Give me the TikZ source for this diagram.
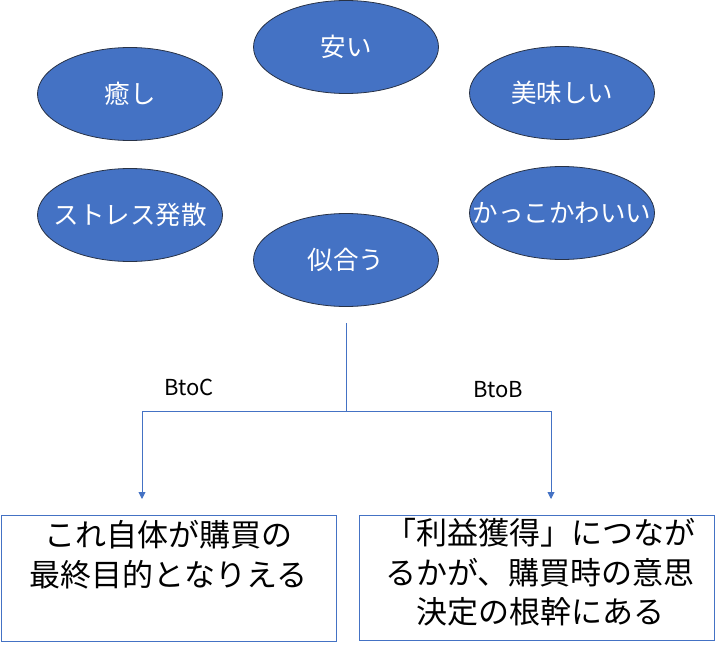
\documentclass[tikz,border=0pt]{standalone}
\usepackage{fontspec}
\setmainfont{Noto Sans CJK JP}
\usetikzlibrary{shapes.geometric,arrows.meta}
\definecolor{accent}{RGB}{68,114,196}
\definecolor{edgeline}{RGB}{40,50,70}
\begin{document}
\begin{tikzpicture}[x=1pt,y=-1pt,
  oval/.style={ellipse,draw=edgeline,line width=0.8pt,fill=accent,minimum width=185pt,minimum height=93pt,inner sep=0pt,text=white,font=\fontsize{25.5}{28}\selectfont},
  conn/.style={draw=accent,line width=0.9pt},
  textbox/.style={draw=accent,line width=0.9pt,fill=white},
  lbl/.style={font=\fontsize{22}{24}\selectfont,text=black}]
\useasboundingbox (0,0) rectangle (717,653);
\node[oval] (yasui) at (346,47) {\makebox[0pt]{安い}};
\node[oval] (iyashi) at (130,94) {\makebox[0pt]{癒し}};
\node[oval] (oishii) at (562,93) {\makebox[0pt]{美味しい}};
\node[oval] (stress) at (130,215) {\makebox[0pt]{ストレス発散}};
\node[oval] (kakko) at (562,213) {\makebox[0pt]{かっこかわいい}};
\node[oval] (niau) at (346,260) {\makebox[0pt]{似合う}};
\coordinate (top) at (346,323);
\coordinate (mid) at (346,411);
\coordinate (lc) at (142,411);
\coordinate (rc) at (551,411);
\coordinate (la) at (142,499);
\coordinate (ra) at (551,499);
\draw[conn] (top) -- (mid);
\draw[conn] (lc) -- (rc);
\draw[conn,-{Triangle[length=7pt,width=7pt]}] (lc) -- (la);
\draw[conn,-{Triangle[length=7pt,width=7pt]}] (rc) -- (ra);
\node[lbl] (btoc) at (189,387) {BtoC};
\node[lbl] (btob) at (498,390) {BtoB};
\draw[textbox] (1,515) rectangle (336,641);
\draw[textbox] (359,515) rectangle (714,640);
\node[anchor=north,align=center,font=\fontsize{31}{40}\selectfont] (bctext) at (168.5,517) {これ自体が購買の\\最終目的となりえる};
\node[anchor=north,align=center,font=\fontsize{31}{39.5}\selectfont] (bbtext) at (540,515) {「利益獲得」につなが\\るかが、購買時の意思\\決定の根幹にある};
\end{tikzpicture}
\end{document}
